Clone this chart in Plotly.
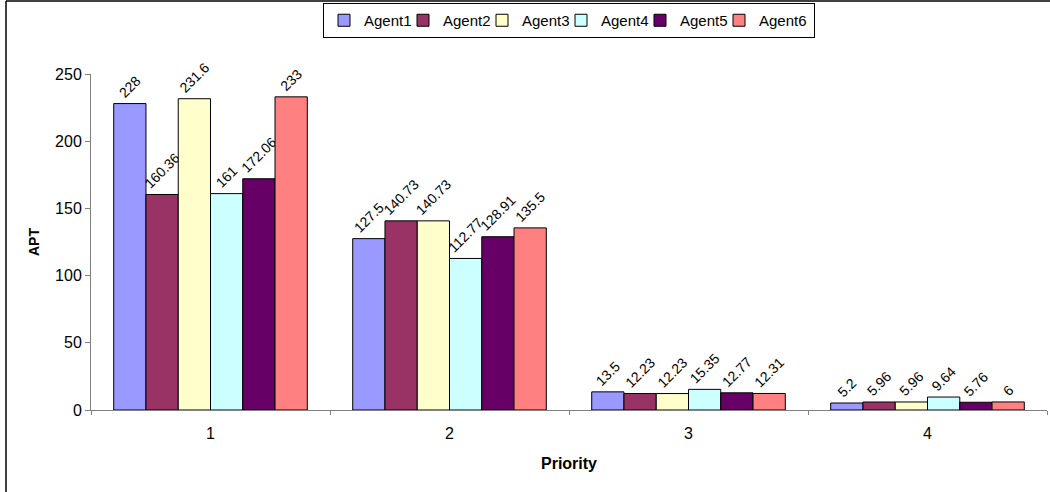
import plotly.graph_objects as go

# Average processing time (APT) per priority level for each agent
priorities = ["1", "2", "3", "4"]
agents = ["Agent1", "Agent2", "Agent3", "Agent4", "Agent5", "Agent6"]
agent1 = [228, 127.5, 13.5, 5.2]
agent2 = [160.36, 140.73, 12.23, 5.96]
agent3 = [231.6, 140.73, 12.23, 5.96]
agent4 = [161, 112.77, 15.35, 9.64]
agent5 = [172.06, 128.91, 12.77, 5.76]
agent6 = [233, 135.5, 12.31, 6]
series = [agent1, agent2, agent3, agent4, agent5, agent6]
colors = ["#9999FF", "#993366", "#FFFFCC", "#CCFFFF", "#660066", "#FF8080"]

W, H = 1050, 492
ML, MR, MT, MB = 91, 3, 74, 82
PW, PH = W - ML - MR, H - MT - MB

font = "Arial, Liberation Sans, sans-serif"

fig = go.Figure()
for i, (name, vals, col) in enumerate(zip(agents, series, colors)):
    last = i == len(agents) - 1
    fig.add_trace(go.Bar(
        name=name, x=priorities, y=vals,
        marker=dict(color=col, line=dict(color="#000000", width=1)),
        text=[f"{v:g}" for v in vals],
        textposition="outside", textangle=-45,
        constraintext="none", cliponaxis=False,
        textfont=dict(family=font, size=14, color="#000000"),
        legendwidth=50 if last else 34,
    ))

def px_x(p):
    return (p - ML) / PW

def px_y(p):
    return (H - MB - p) / PH

fig.update_layout(
    width=W, height=H,
    margin=dict(l=ML, r=MR, t=MT, b=MB),
    paper_bgcolor="white", plot_bgcolor="white",
    barmode="group", bargap=0.19, bargroupgap=0,
    font=dict(family=font, size=16, color="#000000"),
    showlegend=True,
    legend=dict(
        orientation="h", x=0.5, xanchor="center",
        y=px_y(3), yanchor="top",
        bordercolor="#000000", borderwidth=1,
        font=dict(family=font, size=15, color="#000000"),
        itemwidth=30, traceorder="normal",
        entrywidthmode="pixels",
    ),
    xaxis=dict(
        showline=True, linecolor="#808080", linewidth=1,
        ticks="outside", tickson="boundaries", ticklen=4,
        tickcolor="#808080", showgrid=False,
        ticklabelstandoff=9,
        tickfont=dict(family=font, size=16),
        title=dict(text="<b>Priority</b>", font=dict(family=font, size=16), standoff=16),
    ),
    yaxis=dict(
        range=[0, 250], tickvals=[0, 50, 100, 150, 200, 250],
        showline=True, linecolor="#808080", linewidth=1,
        ticks="outside", ticklen=5, tickcolor="#808080",
        showgrid=False, zeroline=False,
        tickfont=dict(family=font, size=16),
        title=dict(text="<b>APT</b>", font=dict(family=font, size=14), standoff=12),
    ),
    shapes=[
        dict(type="line", xref="paper", yref="paper",
             x0=px_x(6), x1=px_x(W), y0=px_y(1), y1=px_y(1),
             line=dict(color="#000000", width=1.5)),
        dict(type="line", xref="paper", yref="paper",
             x0=px_x(6), x1=px_x(6), y0=px_y(1), y1=px_y(H),
             line=dict(color="#000000", width=1.5)),
    ],
)

fig.write_html("out.html")
